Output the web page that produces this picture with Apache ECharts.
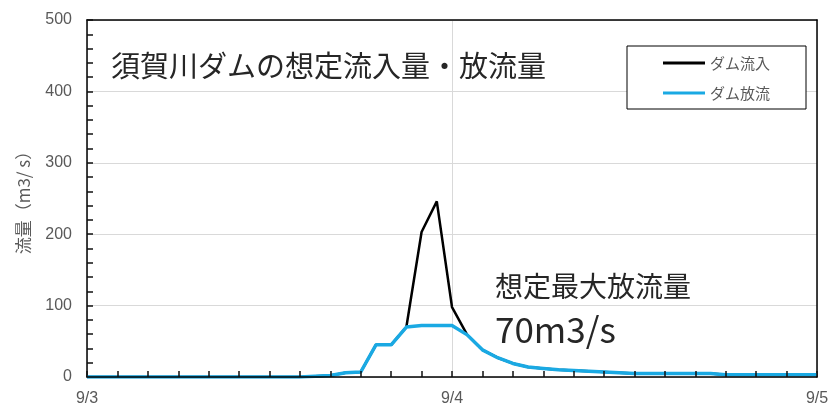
<!DOCTYPE html>
<html>
<head>
<meta charset="utf-8">
<script src="https://cdn.jsdelivr.net/npm/echarts@6/dist/echarts.min.js"></script>
<style>
  html, body { margin: 0; padding: 0; background: #fff; }
  #main { width: 833px; height: 409px; }
</style>
</head>
<body>
<div id="main"></div>
<script>
// 時刻（9/3 0時からの経過時間）
var hours = [0,1,2,3,4,5,6,7,8,9,10,11,12,13,14,15,16,17,18,19,20,21,22,23,24,
  25,26,27,28,29,30,31,32,33,34,35,36,37,38,39,40,41,42,43,44,45,46,47,48];
var dayLabels = ['9/3', '9/4', '9/5'];

// ダム流入
var inflow = [0,0,0,0,0,0,0,0,0,0,0,0,0,0,0,1,2,6,7,45,45,70,203,246,98,
  59,38,27,19,14,12,10,9,8,7,6,5,5,5,5,5,5,3,3,3,3,3,3,3];
// ダム放流
var outflow = [0,0,0,0,0,0,0,0,0,0,0,0,0,0,0,1,2,6,7,45,45,70,72,72,72,
  59,38,27,19,14,12,10,9,8,7,6,5,5,5,5,5,5,3,3,3,3,3,3,3];

function pairs(vals) {
  return hours.map(function (h, i) { return [h, vals[i]]; });
}

var jp = '"Noto Sans CJK JP", sans-serif';
var chart = echarts.init(document.getElementById('main'));

chart.setOption({
  animation: false,
  grid: { left: 87, right: 16, top: 20, bottom: 32 },
  legend: {
    left: 627, top: 46,
    orient: 'vertical',
    backgroundColor: '#fff',
    borderColor: '#000', borderWidth: 1,
    padding: [9, 36, 8, 36],
    icon: 'rect',
    itemWidth: 42, itemHeight: 3, itemGap: 14,
    textStyle: { fontFamily: jp, fontSize: 15, lineHeight: 16, color: '#595959' },
    data: ['ダム流入', 'ダム放流']
  },
  xAxis: [
    {
      // 2時間ごとの目盛、日付ラベル（線の上に描く）
      type: 'value', min: 0, max: 48, interval: 2, position: 'bottom', z: 5,
      axisLine: { show: true, onZero: false, lineStyle: { color: '#000', width: 1.5 } },
      axisTick: { show: true, inside: true, length: 6, lineStyle: { color: '#111', width: 1.5 } },
      splitLine: { show: false },
      axisLabel: {
        margin: 14, fontSize: 16, color: '#595959', fontFamily: 'Liberation Sans',
        formatter: function (v) { return v % 24 === 0 ? dayLabels[v / 24] : ''; }
      }
    },
    {
      // 上枠と日付の縦線
      type: 'value', min: 0, max: 48, interval: 24, position: 'top',
      axisLine: { show: true, onZero: false, lineStyle: { color: '#000', width: 1.5 } },
      axisTick: { show: false }, axisLabel: { show: false },
      splitLine: { show: true, lineStyle: { color: '#d9d9d9' } }
    }
  ],
  yAxis: [
    {
      type: 'value', min: 0, max: 500, interval: 20, position: 'left',
      name: '流量（m3/ s）', nameLocation: 'middle', nameGap: 55,
      nameTextStyle: { fontFamily: jp, fontSize: 17, color: '#595959' },
      axisLine: { show: true, onZero: false, lineStyle: { color: '#000', width: 1.5 } },
      axisTick: { show: true, inside: true, length: 6, lineStyle: { color: '#111', width: 1.5 } },
      splitLine: { show: false },
      axisLabel: {
        margin: 15, fontSize: 16, color: '#595959', fontFamily: 'Liberation Sans',
        formatter: function (v) { return v % 100 === 0 ? String(v) : ''; }
      }
    },
    {
      // 右枠と横の目盛線
      type: 'value', min: 0, max: 500, interval: 100, position: 'right',
      axisLine: { show: true, onZero: false, lineStyle: { color: '#000', width: 1.5 } },
      axisTick: { show: false }, axisLabel: { show: false },
      splitLine: { show: true, lineStyle: { color: '#d9d9d9' } }
    }
  ],
  series: [
    {
      name: 'ダム流入', type: 'line', symbol: 'none',
      data: pairs(inflow),
      itemStyle: { color: '#000' },
      lineStyle: { color: '#000', width: 2.5 }
    },
    {
      name: 'ダム放流', type: 'line', symbol: 'none',
      data: pairs(outflow),
      itemStyle: { color: '#1aa9e3' },
      lineStyle: { color: '#1aa9e3', width: 3.5 }
    }
  ],
  graphic: [
    {
      type: 'text', z: 100,
      style: { x: 111, y: 66, text: '須賀川ダムの想定流入量・放流量', font: '29px ' + jp, fill: '#262626', verticalAlign: 'middle' }
    },
    {
      type: 'text', z: 100,
      style: { x: 495, y: 286, text: '想定最大放流量', font: '28px ' + jp, fill: '#262626', verticalAlign: 'middle' }
    },
    {
      type: 'text', z: 100,
      style: { x: 495, y: 330, text: '70m3/s', font: '35px ' + jp, fill: '#262626', verticalAlign: 'middle' }
    }
  ]
});
</script>
</body>
</html>
